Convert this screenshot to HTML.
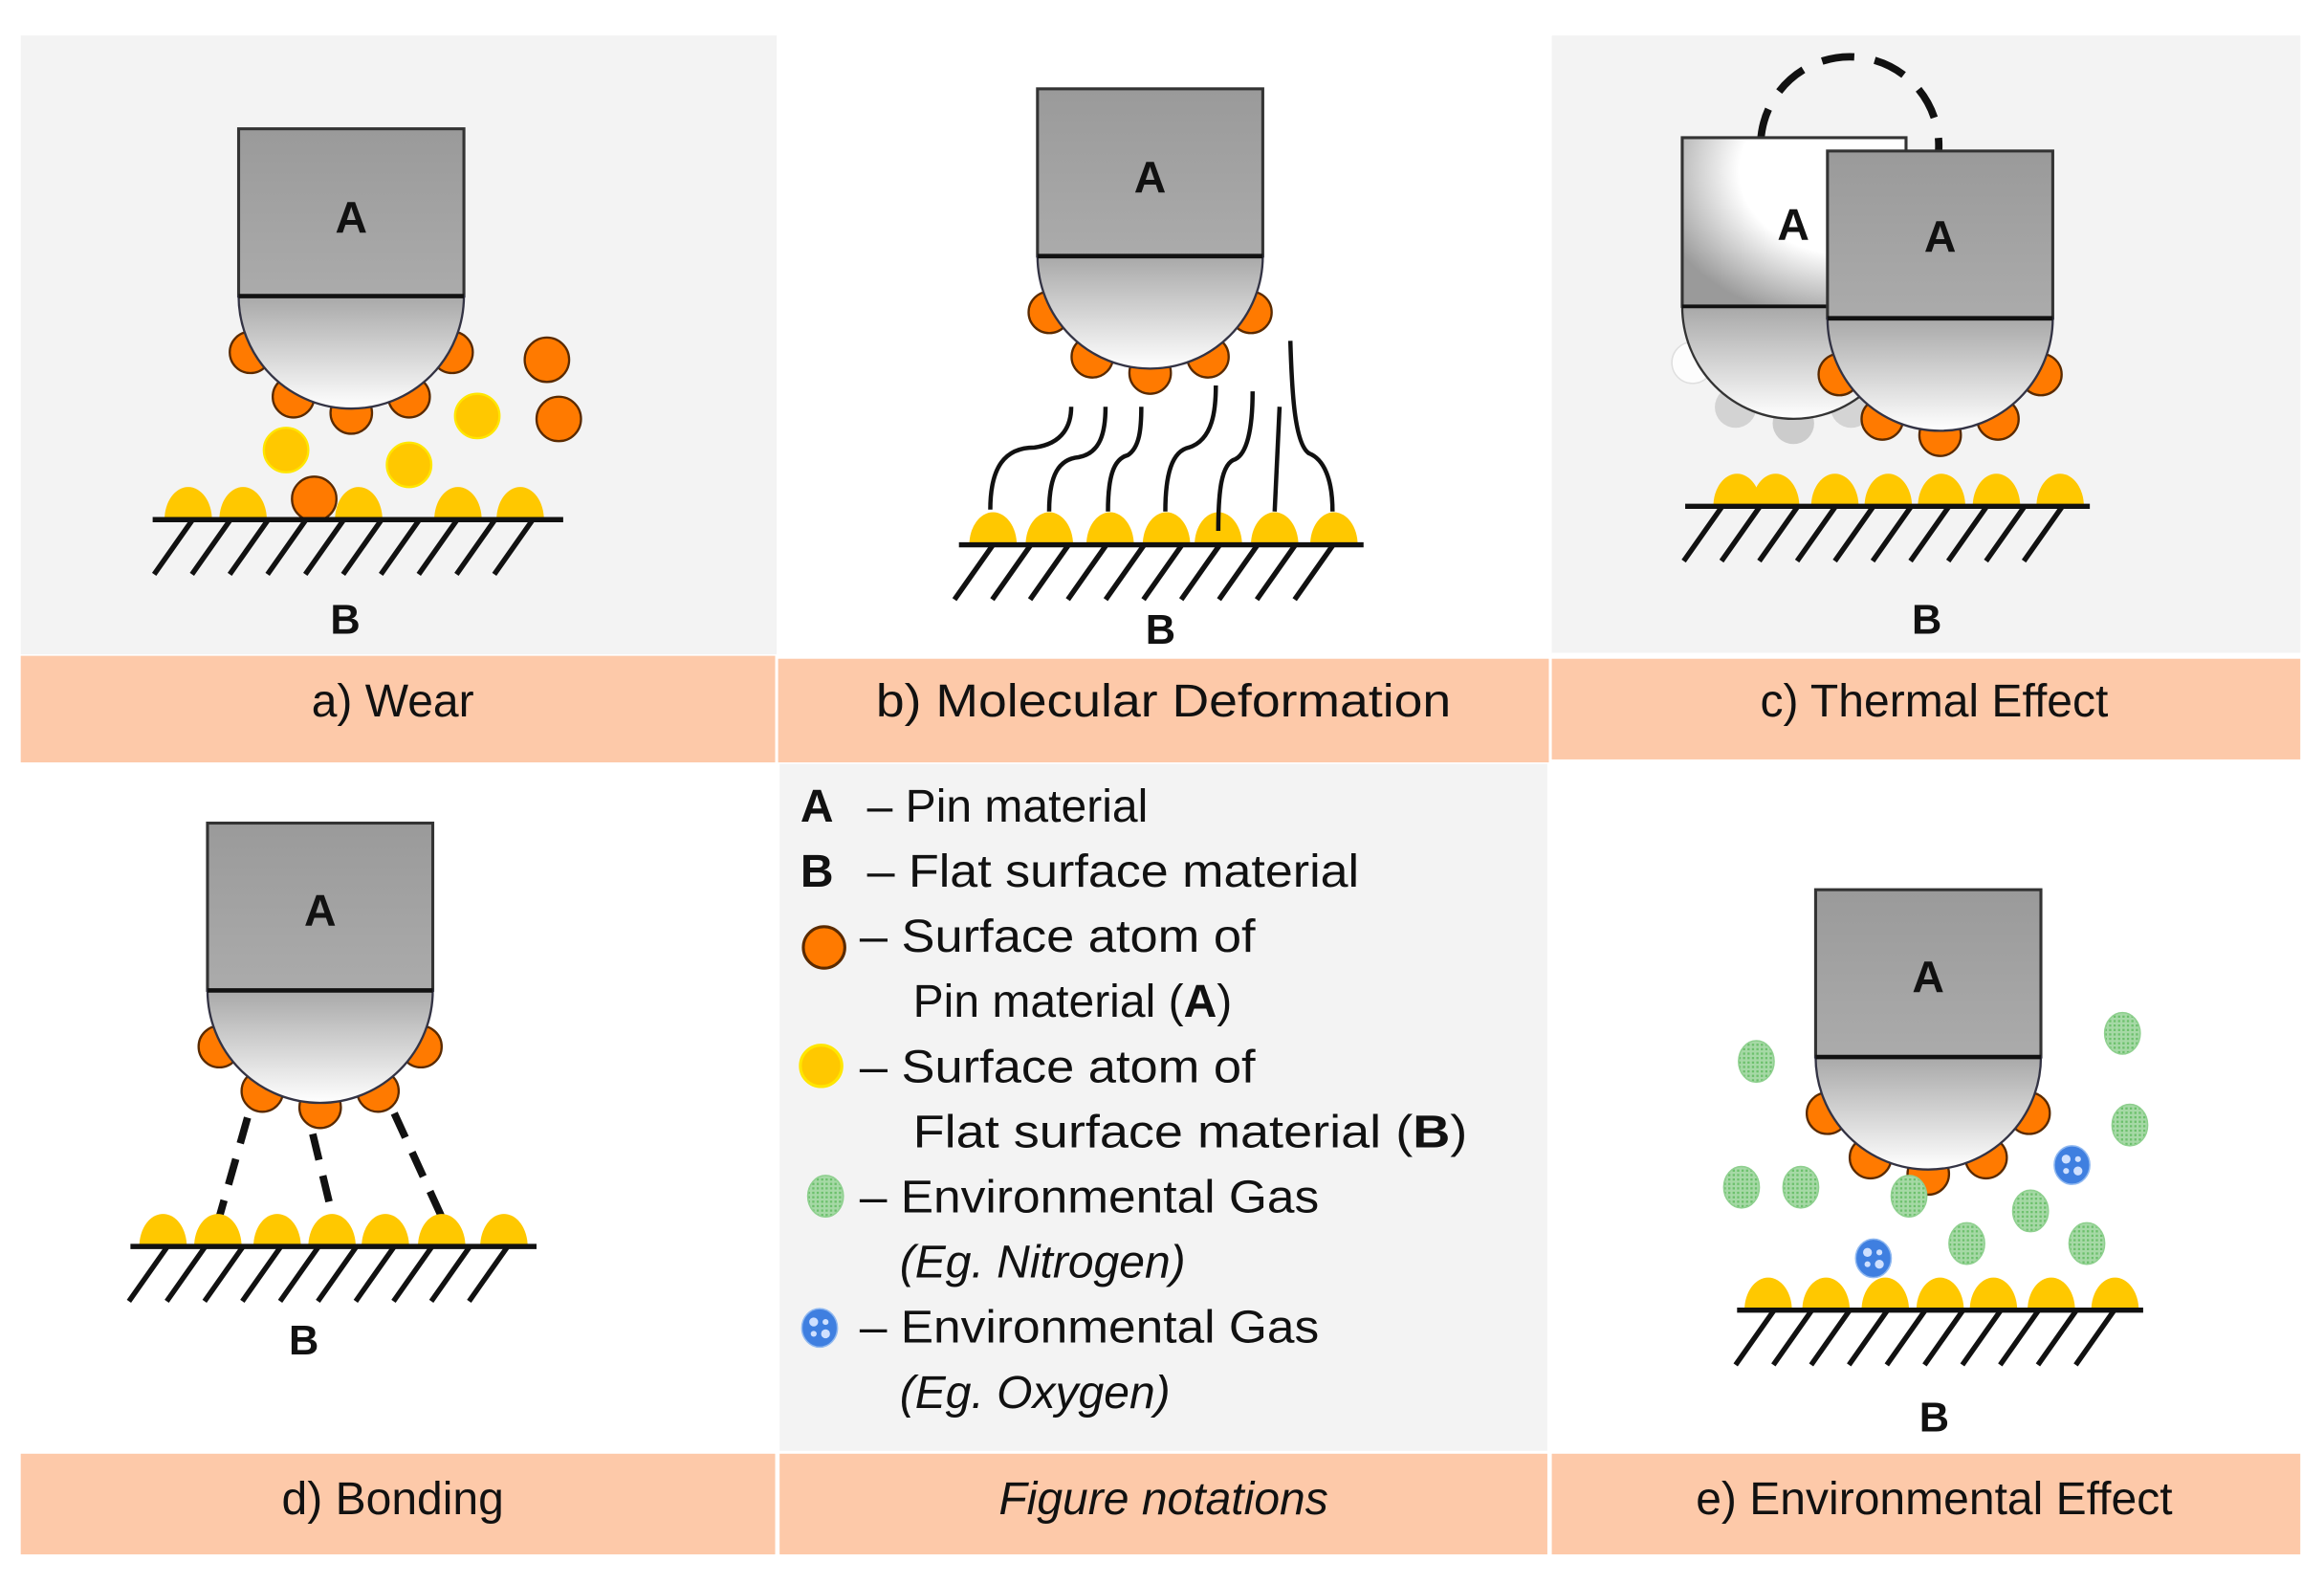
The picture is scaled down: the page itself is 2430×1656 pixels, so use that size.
<!DOCTYPE html>
<html><head><meta charset="utf-8"><style>
html,body{margin:0;padding:0;background:#fff;}
svg{display:block;}
text{font-family:"Liberation Sans",sans-serif;fill:#111;}
</style></head><body>
<svg width="2430" height="1656" viewBox="0 0 1568 1070" preserveAspectRatio="none" xmlns="http://www.w3.org/2000/svg">
<defs>
<linearGradient id="gr" x1="0" y1="0" x2="0" y2="1"><stop offset="0" stop-color="#9a9a9a"/><stop offset="1" stop-color="#ababab"/></linearGradient>
<linearGradient id="gs" x1="0" y1="0" x2="0" y2="1"><stop offset="0" stop-color="#a8a8a8"/><stop offset="1" stop-color="#ffffff"/></linearGradient>
<radialGradient id="gw" cx="0.75" cy="0.2" r="0.9"><stop offset="0.55" stop-color="#ffffff"/><stop offset="1" stop-color="#9a9a9a"/></radialGradient>
<pattern id="dots" patternUnits="userSpaceOnUse" width="3" height="3"><rect width="3" height="3" fill="#a6d9a6"/><rect width="1.5" height="1.5" fill="#6cc06c"/></pattern>
<path id="bump" d="M-16,0 A16,22 0 0 1 16,0 Z" fill="#ffc800"/>
<path id="hatch" d="M0,0 l-26,37 m51.5,-37 l-26,37 m51.5,-37 l-26,37 m51.5,-37 l-26,37 m51.5,-37 l-26,37 m51.5,-37 l-26,37 m51.5,-37 l-26,37 m51.5,-37 l-26,37 m51.5,-37 l-26,37 m51.5,-37 l-26,37" fill="none" stroke="#111" stroke-width="3.5"/>
<g id="atoms">
<circle cx="-68" cy="38" r="14" fill="#ff7a00" stroke="#5a2a00" stroke-width="1.5"/>
<circle cx="68" cy="38" r="14" fill="#ff7a00" stroke="#5a2a00" stroke-width="1.5"/>
<circle cx="-39" cy="68" r="14" fill="#ff7a00" stroke="#5a2a00" stroke-width="1.5"/>
<circle cx="39" cy="68" r="14" fill="#ff7a00" stroke="#5a2a00" stroke-width="1.5"/>
<circle cx="0" cy="79" r="14" fill="#ff7a00" stroke="#5a2a00" stroke-width="1.5"/>
</g>
<g id="pin">
<g transform="translate(0,113)"><use href="#atoms"/></g>
<rect x="-76" y="0" width="152" height="113" fill="url(#gr)" stroke="#333" stroke-width="2"/>
<path d="M-76,113 A76,76 0 0 0 76,113 Z" fill="url(#gs)" stroke="#334" stroke-width="1.5"/>
<line x1="-76" y1="113" x2="76" y2="113" stroke="#111" stroke-width="3"/>
</g>
<g id="gdot"><ellipse cx="0" cy="0" rx="12" ry="14" fill="url(#dots)" stroke="#8fd08f" stroke-width="1"/></g>
<g id="bdot"><ellipse cx="0" cy="0" rx="12" ry="13" fill="#3f7fe0" stroke="#8fb8f0" stroke-width="1"/><circle cx="-4" cy="-4" r="3" fill="#cfe0ff"/><circle cx="4" cy="4" r="3" fill="#cfe0ff"/><circle cx="4" cy="-4" r="2" fill="#cfe0ff"/><circle cx="-4" cy="4" r="2" fill="#cfe0ff"/></g>
</defs>

<rect x="14" y="24" width="510" height="418" fill="#f3f3f3"/>
<rect x="1047" y="24" width="505" height="417" fill="#f3f3f3"/>
<rect x="526" y="516" width="518" height="464" fill="#f3f3f3"/>
<rect x="14" y="443" width="509" height="72" fill="#fdc9a9"/>
<rect x="525" y="445" width="520" height="70" fill="#fdc9a9"/>
<rect x="1047" y="445" width="505" height="68" fill="#fdc9a9"/>
<rect x="14" y="982" width="509" height="68" fill="#fdc9a9"/>
<rect x="526" y="982" width="518" height="68" fill="#fdc9a9"/>
<rect x="1047" y="982" width="505" height="68" fill="#fdc9a9"/>

<!-- a) Wear -->
<use href="#pin" x="237" y="87"/>
<text x="237" y="157" font-size="30" font-weight="bold" text-anchor="middle">A</text>
<circle cx="369" cy="243" r="15" fill="#ff7a00" stroke="#5a2a00" stroke-width="1.5"/>
<circle cx="377" cy="283" r="15" fill="#ff7a00" stroke="#5a2a00" stroke-width="1.5"/>
<circle cx="193" cy="304" r="15" fill="#ffc800" stroke="#ffe600" stroke-width="1.5"/>
<circle cx="322" cy="281" r="15" fill="#ffc800" stroke="#ffe600" stroke-width="1.5"/>
<circle cx="276" cy="314" r="15" fill="#ffc800" stroke="#ffe600" stroke-width="1.5"/>
<use href="#bump" x="127" y="351"/><use href="#bump" x="164" y="351"/><use href="#bump" x="242" y="351"/><use href="#bump" x="309" y="351"/><use href="#bump" x="351" y="351"/>
<circle cx="212" cy="337" r="15" fill="#ff7a00" stroke="#5a2a00" stroke-width="1.5"/>
<use href="#hatch" x="130" y="351"/>
<line x1="103" y1="351" x2="380" y2="351" stroke="#111" stroke-width="3.5"/>
<text x="233" y="428" font-size="28" font-weight="bold" text-anchor="middle">B</text>
<text x="265" y="484" font-size="31" text-anchor="middle">a) Wear</text>

<!-- b) Molecular -->
<use href="#pin" x="776" y="60"/>
<text x="776" y="130" font-size="30" font-weight="bold" text-anchor="middle">A</text>
<use href="#bump" x="670" y="368"/><use href="#bump" x="708" y="368"/><use href="#bump" x="749" y="368"/><use href="#bump" x="787" y="368"/><use href="#bump" x="822" y="368"/><use href="#bump" x="860" y="368"/><use href="#bump" x="900" y="368"/>
<g transform="translate(522.6,40.3) scale(0.3308,0.262)" fill="none" stroke="#111" stroke-width="4.5">
<path vector-effect="non-scaling-stroke" d="M440,1160 C440,1050 470,1000 530,1000 C590,990 605,940 605,895"/>
<path vector-effect="non-scaling-stroke" d="M560,1165 C560,1070 580,1030 620,1025 C665,1015 675,960 675,895"/>
<path vector-effect="non-scaling-stroke" d="M680,1165 C680,1080 690,1030 720,1020 C745,1000 748,950 748,895"/>
<path vector-effect="non-scaling-stroke" d="M797,1165 C797,1070 810,1010 845,1000 C895,980 900,900 900,840"/>
<path vector-effect="non-scaling-stroke" d="M905,1215 C905,1120 910,1040 940,1030 C970,1010 975,920 975,855"/>
<path vector-effect="non-scaling-stroke" d="M1020,1165 L1030,895"/>
<path vector-effect="non-scaling-stroke" d="M1138,1165 C1138,1080 1120,1030 1090,1015 C1060,990 1055,850 1052,725"/>
</g>
<use href="#hatch" x="670" y="368"/>
<line x1="647" y1="368" x2="920" y2="368" stroke="#111" stroke-width="3.5"/>
<text x="783" y="435" font-size="28" font-weight="bold" text-anchor="middle">B</text>
<text x="785" y="484" font-size="31" text-anchor="middle" textLength="388" lengthAdjust="spacingAndGlyphs">b) Molecular Deformation</text>

<!-- c) Thermal -->
<path d="M1188,95 A60,60 0 1 1 1308,102" fill="none" stroke="#111" stroke-width="5" stroke-dasharray="22,14"/>
<g opacity="0.9">
<circle cx="1142" cy="245" r="14" fill="#fff" stroke="#ddd"/>
<circle cx="1171" cy="275" r="14" fill="#d0d0d0"/>
<circle cx="1210" cy="286" r="14" fill="#c8c8c8"/>
<circle cx="1249" cy="275" r="14" fill="#d0d0d0"/>
</g>
<rect x="1135" y="93" width="151" height="114" fill="url(#gw)" stroke="#333" stroke-width="2"/>
<path d="M1135,207 A75,76 0 0 0 1285,207 Z" fill="url(#gs)" stroke="#333" stroke-width="1.5"/>
<line x1="1135" y1="207" x2="1285" y2="207" stroke="#111" stroke-width="2.5"/>
<text x="1210" y="162" font-size="30" font-weight="bold" text-anchor="middle">A</text>
<use href="#pin" x="1309" y="102"/>
<text x="1309" y="170" font-size="30" font-weight="bold" text-anchor="middle">A</text>
<use href="#bump" x="1172" y="342"/><use href="#bump" x="1198" y="342"/><use href="#bump" x="1238" y="342"/><use href="#bump" x="1274" y="342"/><use href="#bump" x="1310" y="342"/><use href="#bump" x="1347" y="342"/><use href="#bump" x="1390" y="342"/>
<use href="#hatch" x="1162" y="342"/>
<line x1="1137" y1="342" x2="1410" y2="342" stroke="#111" stroke-width="3.5"/>
<text x="1300" y="428" font-size="28" font-weight="bold" text-anchor="middle">B</text>
<text x="1305" y="484" font-size="31" text-anchor="middle">c) Thermal Effect</text>

<!-- d) Bonding -->
<use href="#pin" x="216" y="556"/>
<text x="216" y="625" font-size="30" font-weight="bold" text-anchor="middle">A</text>
<g stroke="#111" stroke-width="5" stroke-dasharray="18,11" fill="none">
<line x1="167" y1="755" x2="148" y2="822"/>
<line x1="211" y1="766" x2="224" y2="820"/>
<line x1="266" y1="752" x2="298" y2="822"/>
</g>
<use href="#bump" x="110" y="842"/><use href="#bump" x="147" y="842"/><use href="#bump" x="187" y="842"/><use href="#bump" x="224" y="842"/><use href="#bump" x="260" y="842"/><use href="#bump" x="298" y="842"/><use href="#bump" x="340" y="842"/>
<use href="#hatch" x="113" y="842"/>
<line x1="88" y1="842" x2="362" y2="842" stroke="#111" stroke-width="3.5"/>
<text x="205" y="915" font-size="28" font-weight="bold" text-anchor="middle">B</text>
<text x="265" y="1023" font-size="31" text-anchor="middle">d) Bonding</text>

<!-- legend -->
<g font-size="31">
<text x="540" y="555" font-weight="bold">A</text><text x="585" y="555">– Pin material</text>
<text x="540" y="599" font-weight="bold">B</text><text x="585" y="599" textLength="332" lengthAdjust="spacingAndGlyphs">– Flat surface material</text>
<circle cx="556" cy="640" r="14" fill="#ff7a00" stroke="#5a2a00" stroke-width="2"/>
<text x="580" y="643" textLength="267" lengthAdjust="spacingAndGlyphs">– Surface atom of</text>
<text x="616" y="687">Pin material (<tspan font-weight="bold">A</tspan>)</text>
<circle cx="554" cy="720" r="14" fill="#ffc800" stroke="#ffe600" stroke-width="2"/>
<text x="580" y="731" textLength="267" lengthAdjust="spacingAndGlyphs">– Surface atom of</text>
<text x="616" y="775" textLength="374" lengthAdjust="spacingAndGlyphs">Flat   surface material (<tspan font-weight="bold">B</tspan>)</text>
<use href="#gdot" x="557" y="808"/>
<text x="580" y="819" textLength="310" lengthAdjust="spacingAndGlyphs">– Environmental Gas</text>
<text x="607" y="863" font-style="italic">(Eg. Nitrogen)</text>
<use href="#bdot" x="553" y="897"/>
<text x="580" y="907" textLength="310" lengthAdjust="spacingAndGlyphs">– Environmental Gas</text>
<text x="607" y="951" font-style="italic">(Eg. Oxygen)</text>
</g>
<text x="785" y="1023" font-size="31" font-style="italic" text-anchor="middle">Figure notations</text>

<!-- e) Environmental -->
<use href="#pin" x="1301" y="601"/>
<text x="1301" y="670" font-size="30" font-weight="bold" text-anchor="middle">A</text>
<use href="#gdot" x="1185" y="717"/><use href="#gdot" x="1432" y="698"/><use href="#gdot" x="1437" y="760"/><use href="#gdot" x="1175" y="802"/><use href="#gdot" x="1215" y="802"/><use href="#gdot" x="1288" y="808"/><use href="#gdot" x="1370" y="818"/><use href="#gdot" x="1327" y="840"/><use href="#gdot" x="1408" y="840"/>
<use href="#bdot" x="1398" y="787"/><use href="#bdot" x="1264" y="850"/>
<use href="#bump" x="1193" y="885"/><use href="#bump" x="1232" y="885"/><use href="#bump" x="1272" y="885"/><use href="#bump" x="1309" y="885"/><use href="#bump" x="1345" y="885"/><use href="#bump" x="1384" y="885"/><use href="#bump" x="1427" y="885"/>
<use href="#hatch" x="1197" y="885"/>
<line x1="1172" y1="885" x2="1446" y2="885" stroke="#111" stroke-width="3.5"/>
<text x="1305" y="967" font-size="28" font-weight="bold" text-anchor="middle">B</text>
<text x="1305" y="1023" font-size="31" text-anchor="middle">e) Environmental Effect</text>
</svg>
</body></html>
